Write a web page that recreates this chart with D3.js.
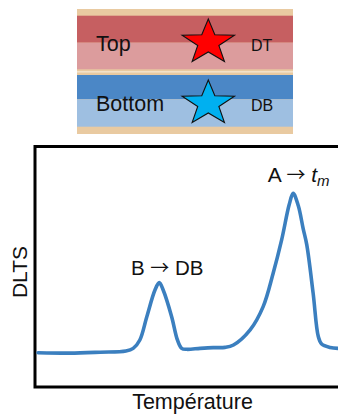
<!DOCTYPE html>
<html><head><meta charset="utf-8">
<script src="https://cdn.jsdelivr.net/npm/d3@7"></script>
<style>body{margin:0;background:#fff}svg{display:block}text{font-family:"Liberation Sans",Arial,sans-serif}</style>
</head><body>
<script>
// ---- data ----
const layers = ["Top", "Bottom"];
const defects = ["DT", "DB"];
const temperature = [1, 11.5, 21.5, 30, 32.4, 34.6, 36.9, 39.6, 41, 42.3, 45.1, 47, 48.4, 50.1, 54.5, 58.8, 62.7, 65.5, 71, 75.3, 78.6, 81.4, 83.9, 85.2, 86.9, 88.5, 89.7, 91.8, 93.5, 94.6, 97.4, 100];
const dlts = [0.143, 0.141, 0.145, 0.150, 0.161, 0.196, 0.293, 0.404, 0.435, 0.404, 0.293, 0.196, 0.161, 0.157, 0.161, 0.164, 0.165, 0.175, 0.238, 0.335, 0.474, 0.613, 0.760, 0.807, 0.755, 0.660, 0.592, 0.390, 0.210, 0.179, 0.165, 0.161];
const peakTemps = [41, 85.2];
const peakLabels = ["B", "DB", "A"];
const xTitle = "Température";
const yTitle = "DLTS";

const W = 338, H = 415;
const svg = d3.select("body").append("svg").attr("width", W).attr("height", H);

// ---- layer diagram ----
const dx0 = 77, dx1 = 293;
const beige = "#e9caa1";
svg.append("rect").attr("x", dx0).attr("y", 9).attr("width", dx1 - dx0).attr("height", 125).attr("fill", beige);
const bandDefs = [
  {y: 15.7, h: 27, c: "#c65f61"}, {y: 42.7, h: 26.6, c: "#dc9c9d"},
  {y: 75, h: 24.3, c: "#4b87c6"}, {y: 99.3, h: 27.4, c: "#9ebfe1"}
];
svg.selectAll("rect.band").data(bandDefs).join("rect").attr("class", "band")
  .attr("x", dx0).attr("y", d => d.y).attr("width", dx1 - dx0).attr("height", d => d.h).attr("fill", d => d.c);
svg.append("rect").attr("x", dx0).attr("y", 71).attr("width", dx1 - dx0).attr("height", 1.6).attr("fill", "#f3e2c8");

const layerY = [51, 111];
svg.selectAll("text.layer").data(layers).join("text").attr("class", "layer")
  .attr("x", 96).attr("y", (d, i) => layerY[i]).attr("font-size", 21.5).attr("fill", "#111").text(d => d);
svg.selectAll("text.def").data(defects).join("text").attr("class", "def")
  .attr("x", 251).attr("y", (d, i) => layerY[i]).attr("font-size", 16).attr("fill", "#111").text(d => d);

function starPath(R, r) {
  const pts = [];
  for (let k = 0; k < 10; k++) {
    const a = -Math.PI / 2 + k * Math.PI / 5;
    const rr = k % 2 === 0 ? R : r;
    pts.push([Math.cos(a) * rr * 1.17, Math.sin(a) * rr]);
  }
  return "M" + pts.map(p => p.join(",")).join("L") + "Z";
}
const starCols = ["#ff0000", "#00b0f0"];
const starCy = [42.5, 103.5];
svg.selectAll("path.star").data(defects).join("path").attr("class", "star")
  .attr("d", starPath(23.5, 9.5))
  .attr("transform", (d, i) => `translate(208.3,${starCy[i]})`)
  .attr("fill", (d, i) => starCols[i]).attr("stroke", "#111").attr("stroke-width", 1.1).attr("stroke-linejoin", "miter");

// ---- DLTS chart ----
const x = d3.scaleLinear().domain([0, 100]).range([35, 338]);
const y = d3.scaleLinear().domain([0, 1]).range([387, 147]);

svg.append("rect").attr("x", 35).attr("y", 146.5).attr("width", 320).attr("height", 240.5)
  .attr("fill", "none").attr("stroke", "#000").attr("stroke-width", 3);

const pts = temperature.map((t, i) => [t, dlts[i]]);
svg.append("path").datum(pts)
  .attr("d", d3.line().x(d => x(d[0])).y(d => y(d[1])).curve(d3.curveCatmullRom.alpha(0.5)))
  .attr("fill", "none").attr("stroke", "#3b7fbf").attr("stroke-width", 3.6).attr("stroke-linecap", "round");

// peak labels
const arrowFont = '"Noto Sans CJK JP", "DejaVu Sans", sans-serif';
const pB = svg.append("text").attr("x", x(peakTemps[0]) + 8).attr("y", 275)
  .attr("text-anchor", "middle").attr("font-size", 20.5).attr("fill", "#111");
pB.append("tspan").text(peakLabels[0] + " ");
pB.append("tspan").style("font-family", arrowFont).attr("font-size", 19).text("→");
pB.append("tspan").text(" " + peakLabels[1]);
const pA = svg.append("text").attr("x", x(peakTemps[1]) + 5.5).attr("y", 182)
  .attr("text-anchor", "middle").attr("font-size", 21).attr("fill", "#111");
pA.append("tspan").text(peakLabels[2] + " ");
pA.append("tspan").style("font-family", arrowFont).attr("font-size", 19).text("→");
pA.append("tspan").text(" ");
pA.append("tspan").attr("font-style", "italic").text("t");
pA.append("tspan").attr("font-style", "italic").attr("font-size", 15).attr("dy", 4).text("m");

// axis titles
svg.append("text").attr("x", 192.5).attr("y", 409).attr("text-anchor", "middle")
  .attr("font-size", 21.5).attr("fill", "#111").text(xTitle);
svg.append("text").attr("transform", "translate(26.5,272) rotate(-90)").attr("text-anchor", "middle")
  .attr("font-size", 21).attr("fill", "#111").text(yTitle);
</script>
</body></html>
